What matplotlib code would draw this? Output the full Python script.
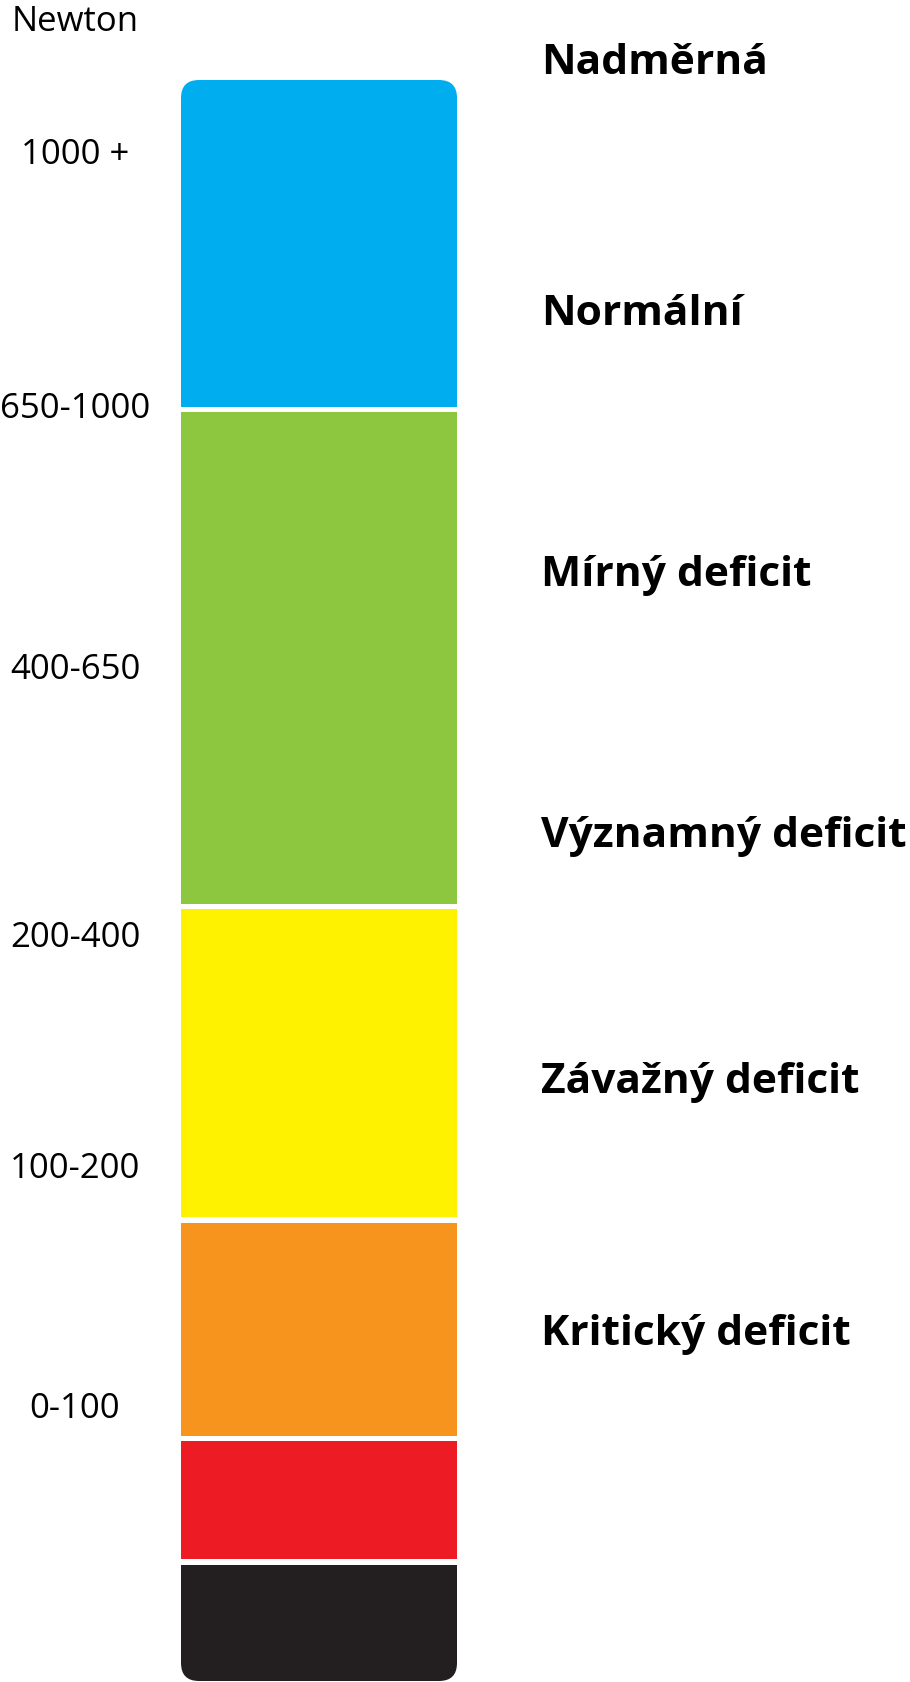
import numpy as np
import matplotlib.pyplot as plt
from matplotlib.patches import FancyBboxPatch

plt.rcParams['font.family'] = ['Open Sans', 'DejaVu Sans']

# stacked scale segments (pixel extents along the bar, top -> bottom)
seg_top = [80, 412, 909, 1223, 1441, 1565]
seg_bottom = [407, 904, 1217, 1436, 1559, 1681]
seg_colors = ['#00AEEF', '#8DC63F', '#FFF200', '#F7941D', '#ED1C24', '#231F20']

# left labels (Newton ranges) and their baselines
left_labels = ['Newton', '1000 +', '650-1000', '400-650', '200-400', '100-200', '0-100']
left_y = [31, 164, 418, 679, 947, 1178, 1418]

# right labels (category names) and their baselines
right_labels = ['Nadměrná', 'Normální', 'Mírný deficit', 'Významný deficit',
                'Závažný deficit', 'Kritický deficit']
right_y = [74, 325, 586, 847, 1093, 1345]

W, H = 910, 1682
fig = plt.figure(figsize=(W / 100, H / 100), dpi=100)
ax = fig.add_axes([0, 0, 1, 1])
ax.set_xlim(0, W)
ax.set_ylim(H, 0)
ax.axis('off')

bar_x0, bar_x1 = 181, 457
# rounded outline used to clip the segments
outline = FancyBboxPatch((bar_x0, seg_top[0]), bar_x1 - bar_x0, seg_bottom[-1] - seg_top[0],
                         boxstyle='round,pad=0,rounding_size=18', facecolor='none',
                         edgecolor='none', transform=ax.transData)
ax.add_patch(outline)

heights = np.array(seg_bottom) - np.array(seg_top)
bars = ax.bar([(bar_x0 + bar_x1) / 2] * len(seg_top), heights, bottom=seg_top,
              width=bar_x1 - bar_x0, color=seg_colors, linewidth=0)
for b in bars:
    b.set_clip_path(outline)

for lab, y in zip(left_labels, left_y):
    ax.text(75, y, lab, fontsize=25, ha='center', va='baseline', color='black')

for lab, y in zip(right_labels, right_y):
    ax.text(541, y, lab, fontsize=30.6, fontweight='bold', ha='left', va='baseline', color='black')

fig.savefig('out.png', dpi=100)
